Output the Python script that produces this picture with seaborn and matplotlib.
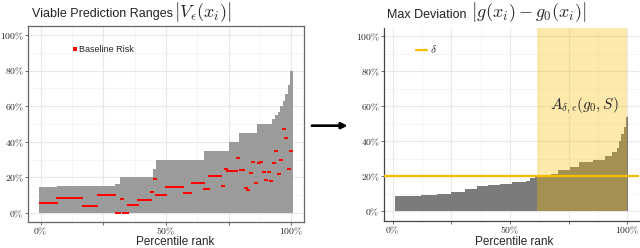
import numpy as np
import pandas as pd
import seaborn as sns
import matplotlib.pyplot as plt
from matplotlib.lines import Line2D
from matplotlib.ticker import FuncFormatter

# viable prediction range per individual (percent), sorted by rank
range_upper = [
    14.8, 14.8, 14.8, 14.8, 14.8, 14.8, 14.8, 15.2, 15.2, 15.2,
    15.2, 15.2, 15.2, 15.2, 15.2, 15.2, 15.2, 15.2, 15.2, 15.2,
    15.2, 15.2, 15.2, 15.2, 15.2, 15.2, 15.2, 15.2, 15.2, 15.2,
    16.5, 16.5, 20, 20, 20, 20, 20, 20, 20, 20,
    20, 20, 20, 20, 20, 25, 30, 30, 30, 30,
    30, 30, 30, 30, 30, 30, 30, 30, 30, 30,
    30, 30, 30, 30, 30, 35, 35, 35, 35, 35,
    35, 35, 35, 35, 35, 40, 40, 40, 40, 45,
    45, 45, 45, 45, 45, 45, 50, 50, 50, 50,
    50, 50, 53, 55, 57, 60, 63, 67, 72, 80,
]

# baseline risk per individual (percent)
baseline_risk = [
    5.5, 5.5, 5.5, 5.5, 5.5, 5.5, 5.5, 8.5, 8.5, 8.5,
    8.5, 8.5, 8.5, 8.5, 8.5, 8.5, 8.5, 4, 4, 4,
    4, 4, 4, 10, 10, 10, 10, 10, 10, 10,
    0, 0, 8, 0, 0, 4.8, 4.8, 4.8, 4.8, 7.2,
    7.2, 7.2, 7.2, 7.2, 12, 19, 10, 10, 10, 10,
    14.6, 14.6, 14.6, 14.6, 14.6, 14.6, 14.6, 11, 11, 11,
    17, 17, 17, 17, 17, 13.5, 13.5, 21, 21, 21,
    21, 21, 15, 24.5, 23.5, 23.5, 23.5, 23.5, 31, 24,
    24, 14, 13, 22.5, 28.5, 17, 28, 28.5, 23, 18.5,
    23, 18, 28, 35, 22, 30, 47, 42, 25, 35,
]

# max deviation per individual (percent)
max_deviation = [
    8.9, 8.9, 8.9, 8.9, 8.9, 8.9, 8.9, 8.9, 8.9, 8.9,
    8.9, 9.5, 9.5, 9.5, 9.5, 9.5, 9.5, 9.5, 10, 10,
    10, 10, 10, 10, 11.2, 11.2, 11.2, 11.2, 11.2, 11.2,
    12.5, 12.5, 12.5, 12.5, 12.5, 14.3, 14.3, 14.3, 14.3, 14.3,
    15.2, 15.2, 15.2, 15.2, 15.2, 15.7, 15.7, 15.7, 15.7, 15.7,
    16.6, 16.6, 16.6, 16.6, 16.6, 16.6, 17.5, 17.5, 19, 19,
    20.3, 20.3, 20.3, 20.3, 20.3, 20.3, 20.3, 21, 21, 21,
    23.5, 23.5, 23.5, 23.5, 23.5, 25, 25, 25, 25, 28,
    28, 28, 28, 28, 28, 29.5, 29.5, 29.5, 29.5, 29.5,
    31.5, 31.5, 31.5, 34, 34, 36, 40, 44, 48, 54,
]

delta = 0.20          # threshold line
band_start = 0.615    # start of the A set (percentile rank)

left_df = pd.DataFrame({
    'rank': np.linspace(0, 1, len(range_upper)),
    'range': np.array(range_upper) / 100,
    'baseline': np.array(baseline_risk) / 100,
})
right_df = pd.DataFrame({
    'rank': np.linspace(0.015, 1, len(max_deviation)),
    'dev': np.array(max_deviation) / 100,
})

sns.set_theme(style='whitegrid')
plt.rcParams['font.family'] = ['Liberation Sans', 'DejaVu Sans']
plt.rcParams['mathtext.fontset'] = 'cm'

W, H = 640, 248
fig = plt.figure(figsize=(W / 100, H / 100), dpi=100)
ax1 = fig.add_axes([28 / W, 1 - 222 / H, 276 / W, 196 / H])
ax2 = fig.add_axes([384 / W, 1 - 220.7 / H, 255 / W, 192.7 / H])

pct = FuncFormatter(lambda v, p: r'$%d\%%$' % round(v * 100))


def style_axes(ax, xlim, ylim):
    ax.set_xlim(*xlim)
    ax.set_ylim(*ylim)
    ax.set_xticks([0, 0.25, 0.5, 0.75, 1])
    ax.set_xticks([0.125, 0.375, 0.625, 0.875], minor=True)
    ax.set_yticks([0, 0.2, 0.4, 0.6, 0.8, 1])
    ax.set_yticks([0.1, 0.3, 0.5, 0.7, 0.9], minor=True)
    ax.xaxis.set_major_formatter(FuncFormatter(
        lambda v, p: '' if round(v * 100) in (25, 75) else r'$%d\%%$' % round(v * 100)))
    ax.yaxis.set_major_formatter(pct)
    ax.grid(which='major', color='#e8e8e8', lw=0.8)
    ax.grid(which='minor', color='#f1f1f1', lw=0.5)
    ax.tick_params(which='major', length=2.0, width=0.6, color='#555555',
                   labelsize=7, labelcolor='#222222', pad=1,
                   bottom=True, left=True)
    ax.tick_params(which='minor', length=0)
    ax.set_xlabel('')
    ax.set_ylabel('')
    ax.set_axisbelow(True)


# flat rectangle so neighbouring points merge into short segments
dot = [(-1, -0.5), (1, -0.5), (1, 0.5), (-1, 0.5), (-1, -0.5)]

# left panel: viable ranges + baseline risk
sns.barplot(data=left_df, x='rank', y='range', native_scale=True, width=1.0,
            color='#9b9b9b', saturation=1, errorbar=None, linewidth=0, ax=ax1)
sns.scatterplot(data=left_df, x='rank', y='baseline', marker=dot, s=6.5,
                color='#ff0000', linewidth=0, ax=ax1, label='Baseline Risk', zorder=3)
style_axes(ax1, (-0.05, 1.05), (-0.05, 1.05))
for s in ax1.spines.values():
    s.set_visible(True)
    s.set_color('#666666')
    s.set_linewidth(0.9)
ax1.legend(handles=[Line2D([], [], marker='s', ls='', color='#ff0000', markersize=2.2,
                           markeredgewidth=0)],
           labels=['Baseline Risk'],
           loc='center left', bbox_to_anchor=(0.16, 0.878), frameon=False,
           fontsize=6.5, handlelength=0.6, handletextpad=0.2, borderpad=0,
           borderaxespad=0)

# right panel: max deviation with threshold
sns.barplot(data=right_df, x='rank', y='dev', native_scale=True, width=1.0,
            color='#7b7b7b', saturation=1, errorbar=None, linewidth=0, ax=ax2)
style_axes(ax2, (-0.037, 1.05), (-0.054, 1.047))
ax2.axvspan(band_start, 1.0, ymin=0.054 / 1.101, ymax=1, color='#fabe00',
            alpha=0.33, lw=0, zorder=3)
ax2.axhline(delta, color='#f7be00', lw=1.6, zorder=4)
for side in ['top', 'right']:
    ax2.spines[side].set_visible(False)
for side in ['left', 'bottom']:
    ax2.spines[side].set_color('#444444')
    ax2.spines[side].set_linewidth(0.9)
ax2.legend(handles=[Line2D([], [], color='#f7be00', lw=1.6)], labels=[r'$\delta$'],
           loc='center left', bbox_to_anchor=(0.125, 0.889), frameon=False,
           fontsize=8, handlelength=1.0, handletextpad=0.3, borderpad=0,
           borderaxespad=0)
ax2.text(0.815, 0.60, r'$A_{\delta,\epsilon}(g_0,S)$', fontsize=11,
         ha='center', va='center', zorder=5)

# titles
fig.text(32 / W, 1 - 17.5 / H, 'Viable Prediction Ranges', fontsize=9,
         va='baseline', color='#222222')
fig.text(174 / W, 1 - 17.5 / H, r'$\left|V_\epsilon(x_i)\right|$', fontsize=13,
         va='baseline')
fig.text(387 / W, 1 - 17.5 / H, 'Max Deviation', fontsize=9,
         va='baseline', color='#222222')
fig.text(471 / W, 1 - 17.5 / H, r'$\left|g(x_i) - g_0(x_i)\right|$', fontsize=13,
         va='baseline')

# axis labels
fig.text(175 / W, 1 - 236 / H, 'Percentile rank', fontsize=8.5, ha='center', va='top')
fig.text(514 / W, 1 - 236 / H, 'Percentile rank', fontsize=8.5, ha='center', va='top')

# arrow between panels
fig.add_artist(plt.annotate('', xy=(350 / W, 1 - 125.7 / H), xytext=(309 / W, 1 - 125.7 / H),
                            xycoords='figure fraction', textcoords='figure fraction',
                            arrowprops=dict(arrowstyle='-|>', color='black', lw=1.6,
                                            mutation_scale=9)))

fig.savefig('out.png', dpi=100)
